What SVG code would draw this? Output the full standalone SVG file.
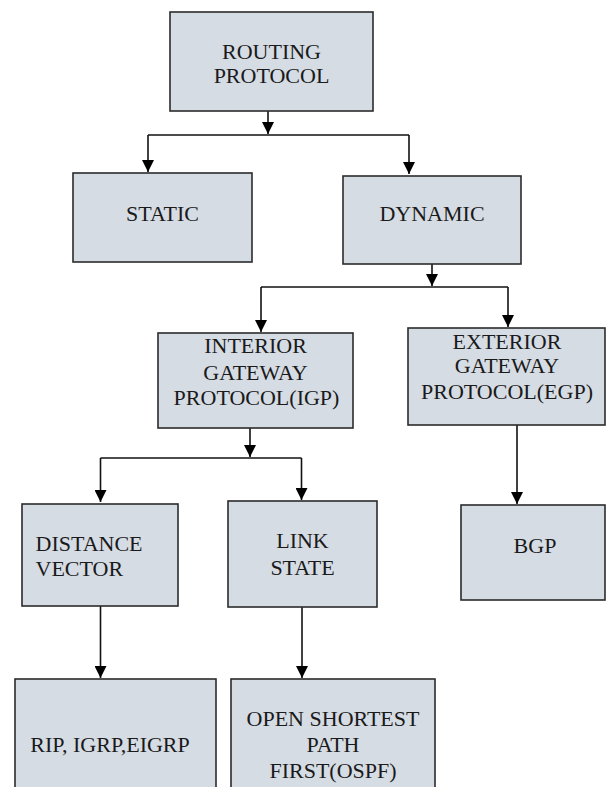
<svg xmlns="http://www.w3.org/2000/svg" width="606" height="787" viewBox="0 0 606 787">
<style>
.box{fill:#d6dce4;stroke:#2b2b2b;stroke-width:1.6}
.t{font-family:"Liberation Serif","Times New Roman",serif;font-size:22px;fill:#1a1a1a;text-anchor:middle}
.c{fill:none;stroke:#111;stroke-width:1.6}
</style>
<defs>
<marker id="ah" viewBox="0 0 12 12" refX="12" refY="6" markerWidth="12" markerHeight="12" markerUnits="userSpaceOnUse" orient="auto">
<path d="M0,0 L12,6 L0,12 Z" fill="#000"/>
</marker>
</defs>
<rect width="606" height="787" fill="#fff"/>
<g id="connectors">
<path class="c" d="M268,111 V134" marker-end="url(#ah)"/>
<path class="c" d="M148,135 H409"/>
<path class="c" d="M148,135 V172" marker-end="url(#ah)"/>
<path class="c" d="M409,135 V174" marker-end="url(#ah)"/>
<path class="c" d="M432,264 V286" marker-end="url(#ah)"/>
<path class="c" d="M261,287 H508"/>
<path class="c" d="M261,287 V332" marker-end="url(#ah)"/>
<path class="c" d="M508,287 V327" marker-end="url(#ah)"/>
<path class="c" d="M250,428 V457" marker-end="url(#ah)"/>
<path class="c" d="M100.5,458 H301.5"/>
<path class="c" d="M100.5,458 V502" marker-end="url(#ah)"/>
<path class="c" d="M301.5,458 V500" marker-end="url(#ah)"/>
<path class="c" d="M517,425 V504" marker-end="url(#ah)"/>
<path class="c" d="M100.5,606 V678" marker-end="url(#ah)"/>
<path class="c" d="M302,607 V678" marker-end="url(#ah)"/>
</g>
<g id="routing">
<rect class="box" x="170" y="12" width="203" height="99"/>
<text class="t" x="271.5" y="59">ROUTING</text>
<text class="t" x="271.5" y="83">PROTOCOL</text>
</g>
<g id="static">
<rect class="box" x="73" y="173" width="179" height="89"/>
<text class="t" x="162.5" y="221">STATIC</text>
</g>
<g id="dynamic">
<rect class="box" x="343" y="176" width="178" height="88"/>
<text class="t" x="432" y="221">DYNAMIC</text>
</g>
<g id="igp">
<rect class="box" x="158" y="333" width="195" height="95"/>
<text class="t" x="255.5" y="353">INTERIOR</text>
<text class="t" x="255.5" y="380">GATEWAY</text>
<text class="t" x="256.5" y="405">PROTOCOL(IGP)</text>
</g>
<g id="egp">
<rect class="box" x="408" y="328" width="197" height="97"/>
<text class="t" x="507" y="349">EXTERIOR</text>
<text class="t" x="507" y="373">GATEWAY</text>
<text class="t" x="507" y="399">PROTOCOL(EGP)</text>
</g>
<g id="distance-vector">
<rect class="box" x="22" y="504" width="156" height="102"/>
<text class="t" x="35.5" y="551" style="text-anchor:start">DISTANCE</text>
<text class="t" x="35.5" y="576" style="text-anchor:start">VECTOR</text>
</g>
<g id="link-state">
<rect class="box" x="228" y="501" width="149" height="106"/>
<text class="t" x="302.5" y="548">LINK</text>
<text class="t" x="302.5" y="575">STATE</text>
</g>
<g id="bgp">
<rect class="box" x="461" y="505" width="144" height="95"/>
<text class="t" x="535" y="553">BGP</text>
</g>
<g id="rip">
<rect class="box" x="15" y="679" width="201" height="120"/>
<text class="t" x="110" y="752">RIP, IGRP,EIGRP</text>
</g>
<g id="ospf">
<rect class="box" x="231" y="679" width="204" height="120"/>
<text class="t" x="333" y="726">OPEN SHORTEST</text>
<text class="t" x="333" y="752">PATH</text>
<text class="t" x="333" y="778">FIRST(OSPF)</text>
</g>
</svg>
